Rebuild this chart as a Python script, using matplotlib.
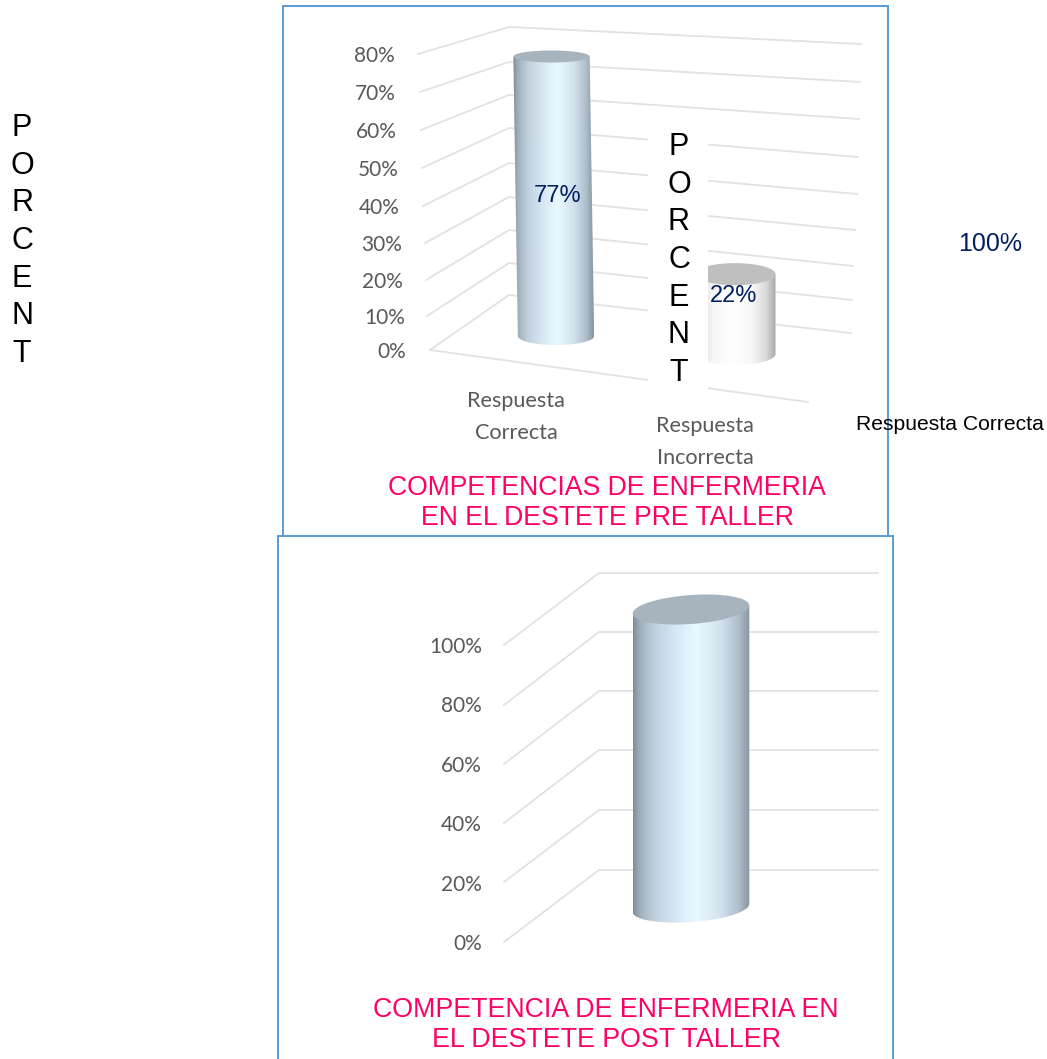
import numpy as np
import matplotlib
matplotlib.use("Agg")
import matplotlib.pyplot as plt
from matplotlib.colors import LinearSegmentedColormap
from matplotlib.patches import Polygon, Rectangle
from matplotlib.transforms import Affine2D

W, H = 1047, 1059

# Survey results
pre_categories = ["Respuesta\nCorrecta", "Respuesta\nIncorrecta"]
pre_values = [77, 22]
pre_ticks = [0, 10, 20, 30, 40, 50, 60, 70, 80]
pre_title = "COMPETENCIAS DE ENFERMERIA\nEN EL DESTETE PRE TALLER"

post_category = "Respuesta Correcta"
post_values = [100]
post_ticks = [0, 20, 40, 60, 80, 100]
post_title = "COMPETENCIA DE ENFERMERIA EN\nEL DESTETE POST TALLER"

axis_word = "\n".join("PORCENT")

# Wall geometry of the pseudo-3D plots, in canvas pixels
pre_front_x = [430, 427, 426, 425, 423, 422, 421, 420, 418]
pre_front_y = [350, 316, 280, 243, 206, 168, 130, 92, 54]
pre_back_y = [295, 263, 230, 197, 163, 128, 95, 62, 27]
pre_right_x = [851, 852, 853, 855, 857, 858, 859, 860, 861]
pre_right_y = [333, 300, 266, 230, 194, 157, 119, 82, 44]
post_front_y = [942, 882, 823, 764, 705, 645]
post_back_y = [870, 810, 750, 691, 632, 573]

GRID = "#e2e2e2"
TICK = "#595959"
NAVY = "#002060"
PINK = "#ff0066"
FRAME = "#5b9bd5"
SANS = "Liberation Sans"
HUMAN = "Lato"

blue_metal = LinearSegmentedColormap.from_list(
    "blue_metal",
    [(0.0, "#7f8d97"), (0.06, "#a0afbb"), (0.2, "#c3d3e1"), (0.45, "#e2f0fb"),
     (0.55, "#e9f7ff"), (0.75, "#d3e1ed"), (0.9, "#b0bfcc"), (1.0, "#87959f")],
)
white_metal = LinearSegmentedColormap.from_list(
    "white_metal",
    [(0.0, "#c8c8c8"), (0.2, "#f4f4f4"), (0.45, "#ffffff"), (0.7, "#f8f8f8"),
     (0.87, "#dcdcdc"), (1.0, "#a8a8a8")],
)


def rect_axes(fig, x0, x1, y_top, y_bot, z):
    """Axes placed from canvas pixels, with y counted from the top."""
    return fig.add_axes([x0 / W, 1 - y_bot / H, (x1 - x0) / W, (y_bot - y_top) / H],
                        zorder=z, facecolor="none")


def canvas_axes(fig, z):
    ax = fig.add_axes([0, 0, 1, 1], zorder=z, facecolor="none")
    ax.set_xlim(0, W)
    ax.set_ylim(H, 0)
    ax.axis("off")
    return ax


def cylinder(ax, x, value, half, ry_top, ry_base, cmap, cap, drop=0, skew=(0, 0), tilt=0):
    """Shaded cylinder standing on the floor, `drop` pixels below the axis zero."""
    tr = ax.transData + Affine2D().translate(0, -drop)
    xlim, ylim = ax.get_xlim(), ax.get_ylim()
    box = ax.get_window_extent()
    unit_x = (xlim[1] - xlim[0]) / box.width
    unit_y = (ylim[1] - ylim[0]) / box.height
    top_x = x + skew[0] * unit_x
    base_x = x + skew[1] * unit_x
    tilt_d = tilt * unit_y
    # outline: top edge straight across, bottom edge as a half ellipse
    t = np.linspace(0, np.pi, 40)
    bx = base_x + half * np.cos(t)
    by = -ry_base * unit_y * np.sin(t) + tilt_d * np.cos(t)
    outline = np.column_stack([
        np.r_[top_x - half, top_x + half, bx],
        np.r_[value - tilt_d, value + tilt_d, by],
    ])
    clip = Polygon(outline, closed=True, transform=tr, facecolor="none", edgecolor="none", zorder=2)
    ax.add_patch(clip)
    grad = np.linspace(0, 1, 256).reshape(1, -1)
    im = ax.imshow(grad, cmap=cmap, aspect="auto", interpolation="bilinear", zorder=2,
                   extent=(min(top_x, base_x) - half, max(top_x, base_x) + half,
                           -2 * ry_base * unit_y, value + 2 * ry_top * unit_y),
                   transform=tr)
    im.set_clip_path(clip)
    ax.set_xlim(xlim)
    ax.set_ylim(ylim)
    # cap
    a = np.linspace(0, 2 * np.pi, 80)
    ex = top_x + half * np.cos(a)
    ey = value + ry_top * unit_y * np.sin(a) + tilt_d * np.cos(a)
    ax.add_patch(Polygon(np.column_stack([ex, ey]), closed=True, transform=tr,
                         facecolor=cap, edgecolor="none", zorder=3))


plt.rcParams["font.family"] = [SANS, "DejaVu Sans"]
fig = plt.figure(figsize=(W / 100, H / 100), dpi=100, facecolor="white")

back = canvas_axes(fig, 0)
front = canvas_axes(fig, 6)

# Frame of the first pasted chart
back.add_patch(Rectangle((283, 6), 605, 560, facecolor="white", edgecolor=FRAME, lw=1.4))

# Walls of the pre-workshop chart
for i, v in enumerate(pre_ticks):
    back.plot([pre_front_x[i], 509, pre_right_x[i]],
              [pre_front_y[i], pre_back_y[i], pre_right_y[i]], color=GRID, lw=1.3, zorder=2)
back.plot([430, 808], [350, 402], color=GRID, lw=1.3, zorder=2)

# Pre-workshop axis with its slightly uneven perspective spacing
pre_axis = rect_axes(fig, 430, 808, pre_front_y[-1], pre_front_y[0], 1)
fwd = lambda v: np.interp(v, pre_ticks, -np.array(pre_front_y, float))
inv = lambda y: np.interp(y, -np.array(pre_front_y, float), pre_ticks)
pre_axis.set_yscale("function", functions=(fwd, inv))
pre_axis.set_ylim(pre_ticks[0], pre_ticks[-1])
pre_axis.set_yticks(pre_ticks, [f"{v}%" for v in pre_ticks], color=TICK, fontsize=15, family=HUMAN)
pre_axis.set_xlim((430 - 516) / 189, (808 - 516) / 189)
pre_axis.set_xticks([0, 1], pre_categories, color=TICK, fontsize=15.6, family=HUMAN, linespacing=1.75)
pre_axis.tick_params(length=0)
for tick, right_px in zip(pre_axis.yaxis.get_major_ticks(), [406, 405, 403, 402, 400, 399, 397, 396, 395]):
    tick.set_pad((430 - right_px) * 0.72)
for tick, top_px in zip(pre_axis.xaxis.get_major_ticks(), [41, 66]):
    tick.set_pad(top_px * 0.72)
for s in pre_axis.spines.values():
    s.set_visible(False)

# Pre-workshop columns
pre_cols = rect_axes(fig, 430, 808, 20, 400, 2)
pre_cols.set_xlim((430 - 555) / 180, (808 - 555) / 180)
pre_cols.set_ylim(-(400 - 336) / 3.63, (336 - 20) / 3.63)
pre_cols.axis("off")
cylinder(pre_cols, 0, pre_values[0], 0.212, 6, 9, blue_metal, "#a7b3bd", skew=(-3.5, 1))
cylinder(pre_cols, 1, pre_values[1], 0.225, 11, 11, white_metal, "#bfbfbf", drop=18)
front.text(558, 196, f"{pre_values[0]}%", color=NAVY, fontsize=17, ha="center", va="center", family=SANS)
front.text(734, 296, f"{pre_values[1]}%", color=NAVY, fontsize=17, ha="center", va="center", family=SANS)

# Pasted text box lying over the second column
front.add_patch(Rectangle((648, 133), 60, 260, facecolor="white", edgecolor="none"))
front.text(679, 260, axis_word, ha="center", va="center", fontsize=22, linespacing=1.335, color="black")
front.text(22, 241, axis_word, ha="center", va="center", fontsize=22, linespacing=1.335, color="black")

front.text(607, 503, pre_title, ha="center", va="center", color=PINK, fontsize=19.2, linespacing=1.2)

# Post-workshop chart sits on top of the first frame
post_bg = canvas_axes(fig, 3)
post_bg.add_patch(Rectangle((278, 536), 615, 540, facecolor="white", edgecolor=FRAME, lw=1.4))
for i, v in enumerate(post_ticks):
    post_bg.plot([504, 599, 878], [post_front_y[i], post_back_y[i], post_back_y[i]],
                 color=GRID, lw=1.3)

post_axis = rect_axes(fig, 504, 878, post_front_y[-1], post_front_y[0], 4)
post_axis.set_ylim(post_ticks[0], post_ticks[-1])
post_axis.set_xlim(0, 1)
post_axis.set_yticks(post_ticks, [f"{v}%" for v in post_ticks], color=TICK, fontsize=15, family=HUMAN)
post_axis.set_xticks([])
post_axis.tick_params(length=0, pad=22 * 0.72)
for s in post_axis.spines.values():
    s.set_visible(False)

post_cols = rect_axes(fig, 504, 878, 570, 960, 5)
post_cols.set_xlim((504 - 691) / 180, (878 - 691) / 180)
post_cols.set_ylim(-(960 - 908) / 2.985, (908 - 570) / 2.985)
post_cols.axis("off")
cylinder(post_cols, 0, post_values[0], 58.3 / 180, 14.5, 14, blue_metal, "#a7b3bd", tilt=4)

front.text(990, 244, f"{post_values[0]}%", color=NAVY, fontsize=18, ha="center", va="center", family=SANS)
front.text(950, 424, post_category, ha="center", va="center", color="black", fontsize=15.2)
front.text(606, 1025, post_title, ha="center", va="center", color=PINK, fontsize=19.3, linespacing=1.2)

fig.savefig("out.png", dpi=100)
